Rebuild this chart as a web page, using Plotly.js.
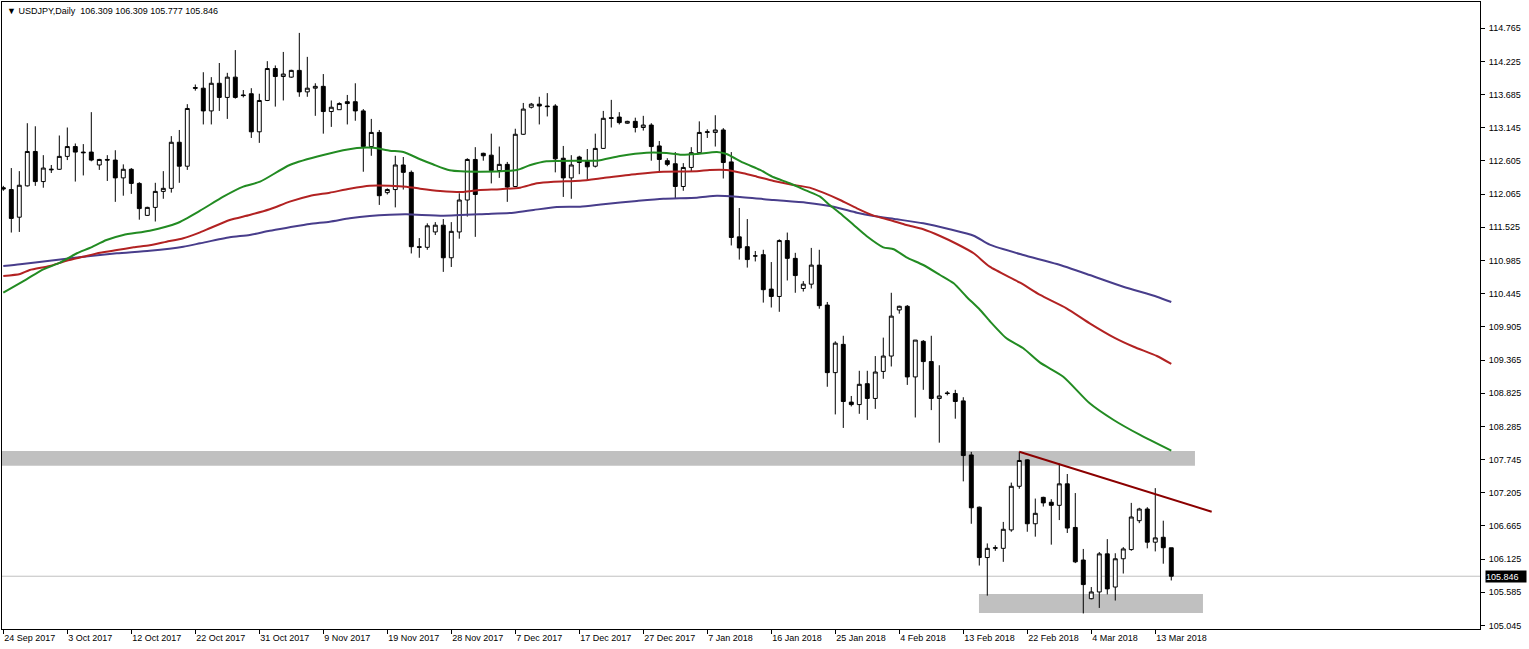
<!DOCTYPE html>
<html>
<head>
<meta charset="utf-8">
<script src="https://cdn.plot.ly/plotly-3.0.1.min.js"></script>
<style>
html,body{margin:0;padding:0;background:#fff;}
#chart{width:1529px;height:649px;}
</style>
</head>
<body>
<div id="chart"></div>
<script>
// ---- Data: USDJPY Daily (bar index 0 = 24 Sep 2017, 146 = 15 Mar 2018) ----
const openP = [112.17,112.14,111.69,112.20,112.76,112.27,112.46,112.47,112.68,112.84,
112.75,112.75,112.54,112.63,112.62,112.33,112.47,112.24,111.72,111.85,
112.11,112.16,112.91,112.52,113.80,113.79,113.42,113.87,113.64,113.97,
113.68,113.70,113.08,113.59,114.11,113.98,113.97,114.08,113.73,113.79,
113.82,113.41,113.44,113.57,113.57,113.42,112.84,113.07,112.09,112.14,
112.54,112.42,111.21,111.20,111.45,111.56,111.03,111.45,111.97,112.63,
112.73,112.70,112.45,112.55,112.19,113.04,113.48,113.53,113.50,113.50,
112.65,112.33,112.67,112.60,112.52,112.81,113.31,113.32,113.22,113.25,
113.15,113.19,112.85,112.61,112.56,112.19,112.50,112.74,113.07,113.07,
113.11,112.59,111.37,111.21,111.06,111.08,110.52,110.40,111.31,111.02,
110.53,110.60,110.91,110.26,109.16,109.62,108.68,108.64,108.98,108.74,
109.18,109.43,110.18,110.24,109.09,109.67,109.34,108.74,108.83,108.82,
108.70,107.82,106.97,106.15,106.30,106.30,106.60,107.31,107.74,106.70,
107.13,107.05,107.00,107.35,106.64,106.11,105.48,105.59,106.21,105.67,
106.13,106.28,106.75,106.94,106.40,106.48,106.309];
const highP = [112.20,112.49,112.44,113.22,113.17,112.70,112.54,113.02,113.15,112.89,
112.88,113.40,112.64,112.70,112.78,112.55,112.49,112.26,111.86,112.25,
112.44,113.01,113.11,113.53,113.85,114.05,113.97,114.20,114.04,114.41,
113.76,113.79,113.70,114.23,114.16,114.38,114.09,114.69,114.30,113.87,
114.02,113.59,113.56,113.68,113.87,113.45,113.29,113.11,112.16,112.69,
112.67,112.45,111.35,111.59,111.61,111.66,111.61,112.08,112.65,112.83,
112.74,113.05,112.84,112.59,113.13,113.55,113.55,113.65,113.71,113.53,
112.85,112.70,112.69,112.80,113.05,113.42,113.60,113.40,113.26,113.31,
113.34,113.22,112.93,112.65,112.75,112.57,112.83,113.25,113.12,113.35,
113.14,112.75,111.84,111.66,111.14,111.16,110.96,111.33,111.44,111.11,
110.65,111.19,111.16,110.31,109.67,109.76,108.78,109.19,109.19,109.43,
109.73,110.46,110.25,110.26,109.69,109.69,109.76,109.28,108.86,108.88,
108.76,107.87,106.98,106.38,106.35,106.73,107.37,107.87,107.75,107.11,
107.14,107.10,107.68,107.51,107.20,106.29,105.67,106.24,106.45,106.22,
106.32,107.04,106.96,106.97,107.28,106.75,106.309];
const lowP = [112.12,111.44,111.45,112.19,112.20,112.17,112.41,112.46,112.62,112.27,
112.37,112.60,112.46,112.28,111.94,112.04,112.07,111.65,111.71,111.62,
111.99,112.09,112.25,112.46,113.75,113.20,113.20,113.42,113.29,113.62,
113.64,112.98,112.90,113.58,113.49,113.59,113.96,113.65,113.65,113.34,
113.05,113.16,113.44,113.20,113.26,112.43,112.69,111.89,112.06,111.85,
112.14,111.10,111.03,111.16,111.40,110.80,110.88,111.34,111.70,111.37,
112.61,112.24,112.33,111.94,112.18,113.03,113.46,113.20,113.33,112.42,
112.02,111.99,112.39,112.30,112.50,112.80,113.15,113.20,113.21,113.07,
113.10,112.61,112.43,112.52,111.99,112.12,112.44,112.73,112.98,112.84,
112.32,111.23,111.00,110.87,110.97,110.30,110.22,110.15,110.66,110.46,
110.48,110.53,110.20,108.93,108.48,108.26,108.61,108.49,108.39,108.57,
109.06,109.26,110.12,108.96,108.43,108.88,108.55,108.02,108.79,108.41,
107.39,106.70,106.02,105.53,106.26,106.08,106.57,107.27,106.57,106.49,
106.98,106.36,106.76,106.55,106.06,105.24,105.47,105.33,105.55,105.45,
105.89,106.26,106.71,106.30,106.25,106.05,105.777];
const closeP = [112.15,111.67,112.21,112.76,112.27,112.49,112.47,112.68,112.84,112.75,
112.74,112.62,112.63,112.62,112.33,112.47,112.24,111.83,111.85,112.11,
112.16,112.91,112.52,113.46,113.79,113.42,113.87,113.64,113.97,113.64,
113.67,113.08,113.59,114.11,113.98,114.02,114.08,113.73,113.79,113.82,
113.41,113.48,113.54,113.54,113.42,112.84,113.07,112.04,112.14,112.54,
112.42,111.21,111.20,111.55,111.56,111.03,111.46,111.97,112.63,112.06,
112.69,112.45,112.55,112.18,113.04,113.45,113.53,113.50,113.49,112.64,
112.33,112.54,112.58,112.51,112.81,113.30,113.30,113.23,113.25,113.15,
113.19,112.84,112.63,112.55,112.19,112.50,112.74,113.07,113.08,113.11,
112.58,111.36,111.19,111.00,111.06,110.51,110.40,111.31,111.02,110.74,
110.60,110.91,110.25,109.16,109.64,108.69,108.64,108.97,108.74,109.17,
109.43,110.08,110.24,109.09,109.69,109.34,108.74,108.78,108.82,108.69,
107.81,106.96,106.15,106.30,106.31,106.61,107.31,107.73,106.70,106.87,
107.04,107.00,107.35,106.63,106.08,105.71,105.59,106.21,105.64,106.13,
106.29,106.81,106.94,106.40,106.47,106.31,105.846];

// Moving averages, read at sample bar positions
const maFastX = [0,2.9,5.0,7.1,9.2,10.8,12.9,15.0,18.3,21.7,24.6,27.5,30.0,32.1,35.8,40.0,44.2,46.3,48.3,50.0,
52.1,53.7,55.8,59.6,64.2,65.8,67.9,72.1,74.2,77.1,80.4,82.9,84.6,86.7,89.2,90.4,92.5,94.6,96.3,98.3,
100.4,102.1,103.3,104.6,106.3,107.9,110.0,111.3,112.9,115.0,117.1,118.8,120.4,122.1,123.3,125.4,127.5,129.6,132.5,135.8,138.8,142.1,146];
const maFastY = [110.461,110.679,110.842,110.950,111.103,111.189,111.319,111.401,111.470,111.591,111.796,112.024,112.187,112.268,112.540,112.703,112.817,112.822,112.773,112.752,
112.633,112.551,112.454,112.431,112.459,112.535,112.600,112.610,112.610,112.687,112.740,112.735,112.708,112.719,112.752,112.719,112.577,112.459,112.340,112.242,
112.122,112.024,111.889,111.754,111.563,111.384,111.200,111.168,111.037,110.912,110.749,110.614,110.396,110.180,110.001,109.719,109.556,109.322,109.094,108.661,108.389,108.145,107.889];
const maMidX = [0,2.1,3.3,5.8,7.9,10.0,12.1,14.2,16.3,18.3,20.4,22.5,24.6,25.8,28.3,30.8,33.3,35.8,38.3,40.8,
43.3,45.8,48.3,50.4,52.1,54.6,57.5,59.6,62.1,64.6,66.7,68.8,72.1,75.0,79.2,82.5,86.7,88.3,90.4,92.5,
94.2,96.3,98.3,100.8,102.5,104.6,106.7,108.8,110.8,112.9,115.0,117.1,119.2,121.3,123.3,127.1,129.6,132.9,135.8,138.8,141.3,144.2,146];
const maMidY = [110.733,110.766,110.831,110.896,110.982,111.047,111.112,111.156,111.200,111.233,111.291,111.347,111.444,111.510,111.645,111.726,111.819,111.943,112.036,112.089,
112.154,112.203,112.203,112.187,112.154,112.117,112.101,112.133,112.145,112.171,112.242,112.268,112.284,112.328,112.394,112.431,112.437,112.459,112.459,112.405,
112.350,112.280,112.226,112.171,112.089,111.970,111.835,111.715,111.645,111.563,111.493,111.384,111.254,111.103,110.885,110.624,110.424,110.207,109.963,109.735,109.582,109.431,109.301];
const maSlowX = [0,2.1,5.8,10.0,14.2,18.3,22.5,24.6,28.3,30.8,33.3,35.8,38.3,40.8,43.3,45.8,48.3,50.4,55.0,60.4,
63.8,66.3,69.2,72.1,75.0,79.2,82.5,86.7,89.2,91.7,96.3,100.4,103.8,106.7,108.8,111.7,115.0,118.3,121.3,123.3,
127.5,131.7,135.8,140.0,144.2,146];
const maSlowY = [110.896,110.924,110.982,111.047,111.103,111.145,111.210,111.265,111.363,111.401,111.470,111.526,111.580,111.617,111.672,111.710,111.731,111.737,111.715,111.743,
111.764,111.808,111.856,111.861,111.900,111.954,111.991,112.008,112.040,112.024,111.970,111.926,111.861,111.764,111.710,111.656,111.591,111.493,111.389,111.243,
111.075,110.928,110.749,110.559,110.396,110.310];

// Tick labels
const dateTickIdx = [0,8,16,24,32,40,48,56,64,72,80,88,96,104,112,120,128,136,144];
const dateTickText = ['24 Sep 2017','3 Oct 2017','12 Oct 2017','22 Oct 2017','31 Oct 2017','9 Nov 2017','19 Nov 2017','28 Nov 2017','7 Dec 2017','17 Dec 2017','27 Dec 2017','7 Jan 2018','16 Jan 2018','25 Jan 2018','4 Feb 2018','13 Feb 2018','22 Feb 2018','4 Mar 2018','13 Mar 2018'];
const priceTicks = [105.045,105.585,106.125,106.665,107.205,107.745,108.285,108.825,109.365,109.905,110.445,110.985,111.525,112.065,112.605,113.145,113.685,114.225,114.765];

// Drawn objects: zones (bar index from/to, price low/high) and trend line
const zoneFrom = [-1, 121.96];
const zoneTo = [148.96, 149.96];
const zoneLow = [107.645, 105.247];
const zoneHigh = [107.884, 105.556];
const trendX = [127, 151.05];
const trendY = [107.873, 106.896];

const symbolText = 'USDJPY,Daily';
const lastBar = {o: 106.309, h: 106.309, l: 105.777, c: 105.846};

// ---- Build ----
const idx = openP.map((_, i) => i);
const FONT = 'Liberation Sans, Arial, sans-serif';
const maLine = (c) => ({color: c, width: 2, shape: 'spline', smoothing: 0.6});

const traces = [
  {
    type: 'candlestick', x: idx, open: openP, high: highP, low: lowP, close: closeP,
    increasing: {line: {color: '#000000', width: 1}, fillcolor: '#ffffff'},
    decreasing: {line: {color: '#000000', width: 1}, fillcolor: '#000000'},
    whiskerwidth: 0, hoverinfo: 'skip', showlegend: false
  },
  {type: 'scatter', mode: 'lines', x: maSlowX, y: maSlowY, line: maLine('#483D8B'), hoverinfo: 'skip'},
  {type: 'scatter', mode: 'lines', x: maMidX, y: maMidY, line: maLine('#B22222'), hoverinfo: 'skip'},
  {type: 'scatter', mode: 'lines', x: maFastX, y: maFastY, line: maLine('#228B22'), hoverinfo: 'skip'},
  {type: 'scatter', mode: 'lines', x: trendX, y: trendY, line: {color: '#8B0000', width: 2}, hoverinfo: 'skip'}
];

const shapes = zoneFrom.map((x0, k) => ({
  type: 'rect', xref: 'x', yref: 'y', x0: x0, x1: zoneTo[k], y0: zoneLow[k], y1: zoneHigh[k],
  fillcolor: '#C0C0C0', line: {width: 0}, layer: 'below'
}));
shapes.push({type: 'line', xref: 'paper', yref: 'y', x0: 0, x1: 1, y0: lastBar.c, y1: lastBar.c,
  line: {color: '#C0C0C0', width: 1}, layer: 'below'});

const layout = {
  width: 1529, height: 649,
  margin: {l: 2, r: 49, t: 2, b: 20, pad: 0},
  paper_bgcolor: '#ffffff', plot_bgcolor: '#ffffff',
  showlegend: false,
  font: {family: FONT, size: 9, color: '#000000'},
  xaxis: {
    range: [-0.1625, 184.59], type: 'linear',
    showgrid: false, zeroline: false,
    showline: true, mirror: true, linecolor: '#000000', linewidth: 1,
    ticks: 'outside', ticklen: 4, tickcolor: '#000000', tickwidth: 1,
    tickmode: 'array', tickvals: dateTickIdx, ticktext: dateTickText,
    ticklabelposition: 'outside right',
    tickfont: {family: FONT, size: 9, color: '#000000'},
    rangeslider: {visible: false}, fixedrange: true
  },
  yaxis: {
    range: [104.987, 115.193], side: 'right',
    showgrid: false, zeroline: false,
    showline: true, mirror: true, linecolor: '#000000', linewidth: 1,
    ticks: 'outside', ticklen: 4, tickcolor: '#000000', tickwidth: 1,
    ticklabelstandoff: 2,
    tickmode: 'array', tickvals: priceTicks, ticktext: priceTicks.map(v => v.toFixed(3)),
    tickfont: {family: FONT, size: 9, color: '#000000'},
    fixedrange: true
  },
  shapes: shapes,
  annotations: [
    {xref: 'paper', yref: 'paper', x: 0, y: 1, xanchor: 'left', yanchor: 'top', xshift: 3, yshift: -2,
     text: '\u25BC ' + symbolText + '  ' + [lastBar.o, lastBar.h, lastBar.l, lastBar.c].map(v => v.toFixed(3)).join(' '),
     showarrow: false, font: {family: FONT, size: 9, color: '#000000'}},
    {xref: 'paper', yref: 'y', x: 1, y: lastBar.c, xanchor: 'left', yanchor: 'middle', xshift: 5,
     text: lastBar.c.toFixed(3), showarrow: false, bgcolor: '#000000', width: 40, height: 11, align: 'left',
     font: {family: FONT, size: 9, color: '#ffffff'}, borderpad: 0}
  ]
};

Plotly.newPlot('chart', traces, layout, {displayModeBar: false, staticPlot: true});
</script>
</body>
</html>
